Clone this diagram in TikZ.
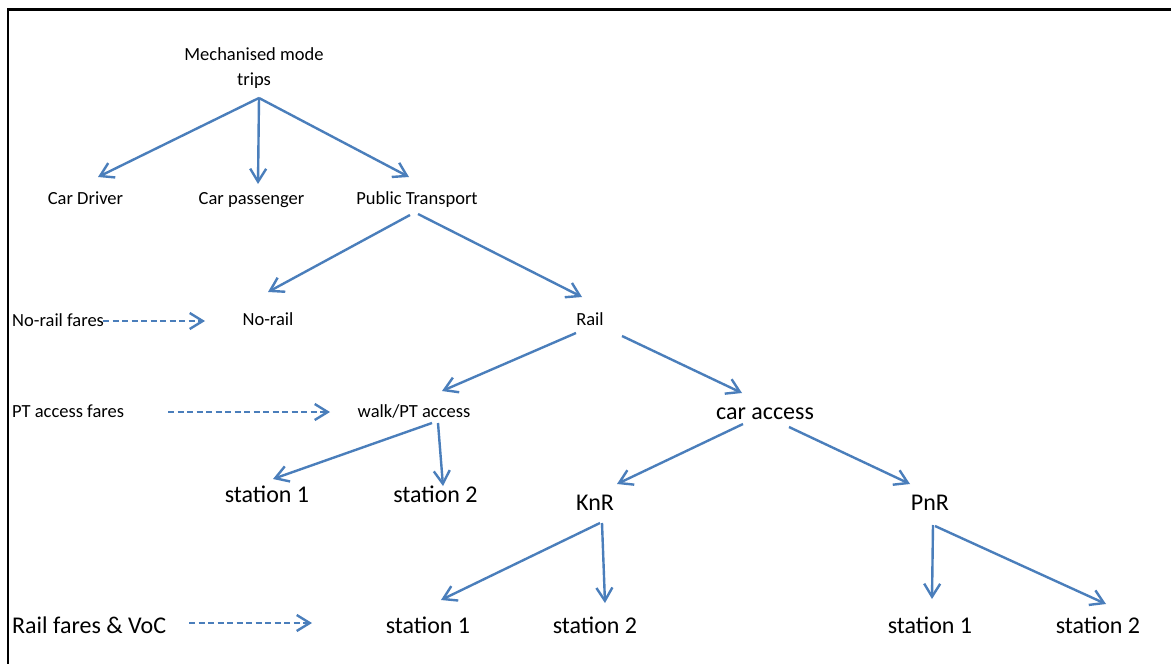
\documentclass[tikz,border=0pt]{standalone}
\usepackage{fontspec}
\setmainfont{Carlito}
\usetikzlibrary{arrows.meta}
\definecolor{officeblue}{RGB}{74,126,187}
\begin{document}
\begin{tikzpicture}[x=1pt,y=-1pt,
  small/.style={font=\fontsize{18.5}{25}\selectfont, inner sep=0pt, anchor=base},
  large/.style={font=\fontsize{24}{29}\selectfont, inner sep=0pt, anchor=base},
  link/.style={draw=officeblue, line width=2.4pt,
    -{Straight Barb[length=13pt,width=16pt,line width=2.4pt]}},
  fare/.style={link, dash pattern=on 6pt off 3.5pt},
]
% page and outer frame
\clip (0,0) rectangle (1171,664);
\fill[white] (0,0) rectangle (1171,664);
\draw[line width=2.5pt] (8,9.5) rectangle (1190,690);

% tree levels (the root's base is the baseline of its last line)
\node[small, align=center] (root) at (254,85) {Mechanised mode\\trips};
\node[small] (cd)   at (85.5,204) {Car Driver};
\node[small] (cp)   at (251.5,204) {Car passenger};
\node[small] (pt)   at (417,204) {Public Transport};
\node[small] (nr)   at (268,325) {No-rail};
\node[small] (rail) at (590,325) {Rail};
\node[small] (walk) at (414,417) {walk/PT access};
\node[large] (car)  at (765,419) {car access};
\node[large] (s1a)  at (267,502) {station 1};
\node[large] (s2a)  at (435.5,502) {station 2};
\node[large] (knr)  at (595,510) {KnR};
\node[large] (pnr)  at (930,510) {PnR};
\node[large] (s1b)  at (428,633) {station 1};
\node[large] (s2b)  at (595,633) {station 2};
\node[large] (s1c)  at (930,633) {station 1};
\node[large] (s2c)  at (1098,633) {station 2};

% cost labels on the left
\node[small, anchor=base west] (nrf) at (12,326) {No-rail fares};
\node[small, anchor=base west] (ptf) at (12,417) {PT access fares};
\node[large, anchor=base west] (rfv) at (12,633) {Rail fares \& VoC};

% choice branches
\draw[link] ([shift={(5,13)}]root.base) -- ([shift={(12.5,-27)}]cd.base);
\draw[link] ([shift={(5,13)}]root.base) -- ([shift={(6.5,-20)}]cp.base);
\draw[link] ([shift={(5,13)}]root.base) -- ([shift={(-8,-27)}]pt.base);

\draw[link] ([shift={(-7,11)}]pt.base) -- ([shift={(0,-33)}]nr.base);
\draw[link] ([shift={(1,10)}]pt.base) -- ([shift={(-8,-28)}]rail.base);

\draw[link] ([shift={(-14,8)}]rail.base) -- ([shift={(28,-26)}]walk.base);
\draw[link] ([shift={(32,11)}]rail.base) -- ([shift={(-23,-26)}]car.base);

\draw[link] ([shift={(18,6)}]walk.base) -- ([shift={(6,-23)}]s1a.base);
\draw[link] ([shift={(24,6)}]walk.base) -- ([shift={(7.5,-16)}]s2a.base);

\draw[link] ([shift={(-22,5)}]car.base) -- ([shift={(22,-26)}]knr.base);
\draw[link] ([shift={(24,8)}]car.base) -- ([shift={(-20,-26)}]pnr.base);

\draw[link] ([shift={(5,13)}]knr.base) -- ([shift={(13,-33)}]s1b.base);
\draw[link] ([shift={(7,13)}]knr.base) -- ([shift={(10,-30)}]s2b.base);

\draw[link] ([shift={(3,15)}]pnr.base) -- ([shift={(2,-34)}]s1c.base);
\draw[link] ([shift={(5,16)}]pnr.base) -- ([shift={(8,-29)}]s2c.base);

% cost inputs
\draw[fare] ([shift={(91,-5)}]nrf.base west) -- ([shift={(-63,-4)}]nr.base);
\draw[fare] ([shift={(156,-5)}]ptf.base west) -- ([shift={(-84,-5)}]walk.base);
\draw[fare] ([shift={(177,-10)}]rfv.base west) -- ([shift={(-116,-10)}]s1b.base);
\end{tikzpicture}
\end{document}
